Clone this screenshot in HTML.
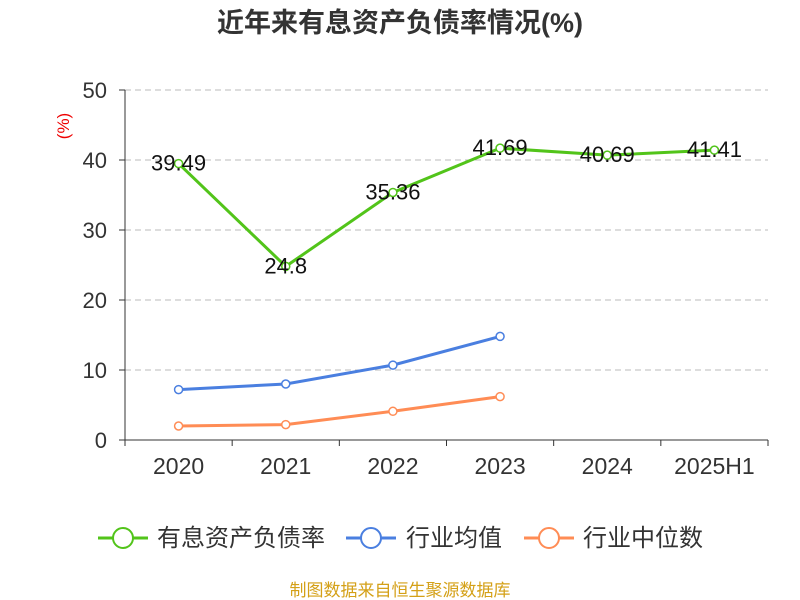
<!DOCTYPE html>
<html><head><meta charset="utf-8"><style>
body{margin:0;background:#fff;}
svg{display:block;font-family:"Liberation Sans","Noto Sans CJK SC",sans-serif;}
</style></head><body>
<svg id="chart" width="800" height="600">
<text x="400" y="32" text-anchor="middle" font-size="27" font-weight="bold" fill="#333">近年来有息资产负债率情况(%)</text>
<text transform="translate(69,126) rotate(-90)" text-anchor="middle" font-size="17" fill="#e00">(%)</text>
<g id="grid"></g><g id="axes"></g><g id="series"></g>
<g>
<g><line x1="98" y1="538" x2="148" y2="538" stroke="#52c41a" stroke-width="3"/><circle cx="123" cy="538" r="10" fill="#fff" stroke="#52c41a" stroke-width="2"/><text x="157" y="546" font-size="24" fill="#333">有息资产负债率</text></g>
<g><line x1="346" y1="538" x2="396" y2="538" stroke="#4a7fe0" stroke-width="3"/><circle cx="371" cy="538" r="10" fill="#fff" stroke="#4a7fe0" stroke-width="2"/><text x="406" y="546" font-size="24" fill="#333">行业均值</text></g>
<g><line x1="524" y1="538" x2="574" y2="538" stroke="#ff8c55" stroke-width="3"/><circle cx="549" cy="538" r="10" fill="#fff" stroke="#ff8c55" stroke-width="2"/><text x="583" y="546" font-size="24" fill="#333">行业中位数</text></g>
</g>
<text x="400" y="596" text-anchor="middle" font-size="17" fill="#d4a017">制图数据来自恒生聚源数据库</text>
</svg>
<script>
const categories=["2020","2021","2022","2023","2024","2025H1"];
const debtRatio=[39.49,24.8,35.36,41.69,40.69,41.41];
const industryMean=[7.2,8.0,10.7,14.8];
const industryMedian=[2.0,2.2,4.1,6.2];
const yTicks=[0,10,20,30,40,50];
const NS="http://www.w3.org/2000/svg";
const x0=125,x1=768,y0=440,y1=90,yMax=50;
const bw=(x1-x0)/categories.length;
const xs=i=>x0+bw*(i+0.5);
const ys=v=>y0-(v/yMax)*(y0-y1);
function mk(tag,attrs,parent){const e=document.createElementNS(NS,tag);for(const k in attrs)e.setAttribute(k,attrs[k]);parent.appendChild(e);return e;}
const grid=document.getElementById('grid'),axes=document.getElementById('axes'),ser=document.getElementById('series');
yTicks.forEach(t=>{
 if(t>0){const g=mk('line',{x1:x0,x2:x1,y1:ys(t),y2:ys(t),stroke:'#bbb','stroke-dasharray':'6,4'},grid);
 
 }
 const tk=mk('line',{x1:x0-6,x2:x0,y1:ys(t),y2:ys(t),stroke:'#333'},axes);
 
 
 const l=mk('text',{x:x0-18,y:ys(t)+8,'text-anchor':'end','font-size':22,fill:'#333'},axes);l.textContent=t;
 
 
});
const ya=mk('line',{x1:x0,x2:x0,y1:y1,y2:y0,stroke:'#333'},axes);


const xa=mk('line',{x1:x0,x2:x1,y1:y0,y2:y0,stroke:'#333'},axes);


for(let i=0;i<=categories.length;i++){const t=mk('line',{x1:x0+bw*i,x2:x0+bw*i,y1:y0,y2:y0+6,stroke:'#333'},axes);
 
 }
categories.forEach((c,i)=>{const l=mk('text',{x:xs(i),y:y0+34,'text-anchor':'middle','font-size':23,fill:'#333'},axes);l.textContent=c;
 
 });
function series(vals,color,name,labels){
 const g=mk('g',{},ser);
 
 
 const p=mk('polyline',{points:vals.map((v,i)=>xs(i)+','+ys(v)).join(' '),fill:'none',stroke:color,'stroke-width':3},g);
 
 
 vals.forEach((v,i)=>{const c=mk('circle',{cx:xs(i),cy:ys(v),r:4,fill:'#fff',stroke:color,'stroke-width':1.5},g);
  
  
  if(labels){const t=mk('text',{x:xs(i),y:ys(v)+7,'text-anchor':'middle','font-size':22,fill:'#111'},g);t.textContent=v;
   
   }
 });
}
series(industryMedian,'#ff8c55','industry-median',false);
series(industryMean,'#4a7fe0','industry-mean',false);
series(debtRatio,'#52c41a','debt-ratio',true);
</script>
</body></html>
